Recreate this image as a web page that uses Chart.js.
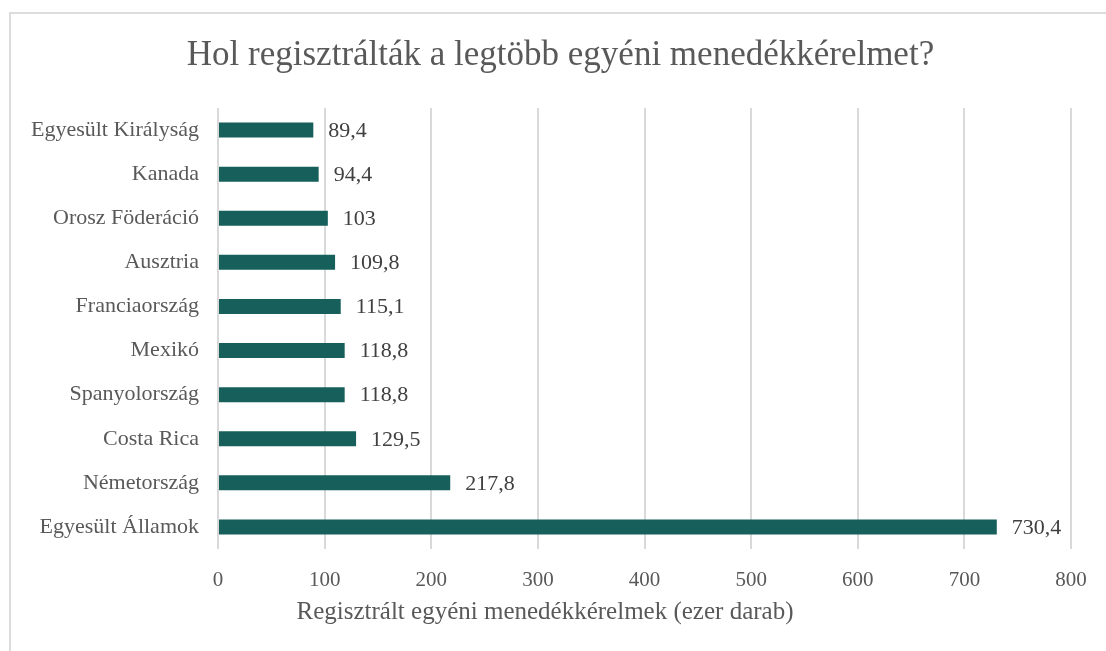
<!DOCTYPE html>
<html>
<head>
<meta charset="utf-8">
<script src="https://cdn.jsdelivr.net/npm/chart.js@4/dist/chart.umd.min.js"></script>
<style>
  html, body { margin: 0; padding: 0; background: #fff; }
  #wrap { position: relative; width: 1106px; height: 651px; }
  #frame { position: absolute; left: 9px; top: 12px; width: 1110px; height: 660px; border: 2px solid #dcdcdc; box-sizing: border-box; pointer-events: none; }
  canvas { position: absolute; left: 0; top: 0; }
</style>
</head>
<body>
<div id="wrap">
  <canvas id="c" width="1106" height="651"></canvas>
  <div id="frame"></div>
</div>
<script>
const categories = ["Egyesült Királyság", "Kanada", "Orosz Föderáció", "Ausztria", "Franciaország", "Mexikó", "Spanyolország", "Costa Rica", "Németország", "Egyesült Államok"];
const values = [89.4, 94.4, 103, 109.8, 115.1, 118.8, 118.8, 129.5, 217.8, 730.4];
const titleText = "Hol regisztrálták a legtöbb egyéni menedékkérelmet?";
const xAxisTitle = "Regisztrált egyéni menedékkérelmek (ezer darab)";
const xTicks = [0, 100, 200, 300, 400, 500, 600, 700, 800];

const FONT = "'Liberation Serif', 'Times New Roman', serif";
const fmt = v => String(v).replace('.', ',');

const labelPlugin = {
  id: 'valueLabels',
  afterDatasetsDraw(chart) {
    const ctx = chart.ctx;
    const meta = chart.getDatasetMeta(0);
    ctx.save();
    ctx.font = "22px " + FONT;
    ctx.fillStyle = "#404040";
    ctx.textAlign = "left";
    ctx.textBaseline = "middle";
    meta.data.forEach((bar, i) => {
      ctx.fillText(fmt(values[i]), bar.x + 15, bar.y + 1);
    });
    ctx.restore();
  }
};

const axisTitlePlugin = {
  id: 'axisTitle',
  afterDraw(chart) {
    const ctx = chart.ctx;
    ctx.save();
    ctx.font = "25px " + FONT;
    ctx.fillStyle = "#595959";
    ctx.textAlign = "center";
    ctx.textBaseline = "middle";
    ctx.fillText(xAxisTitle, chart.width / 2 - 8, chart.chartArea.bottom + 63);
    ctx.restore();
  }
};

new Chart(document.getElementById('c'), {
  type: 'bar',
  data: {
    labels: categories,
    datasets: [{
      data: values,
      backgroundColor: '#175f5a',
      borderWidth: 0,
      categoryPercentage: 1,
      barPercentage: 0.34
    }]
  },
  options: {
    indexAxis: 'y',
    responsive: false,
    animation: false,
    devicePixelRatio: 1,
    layout: { padding: { left: 25, right: 10, top: 0, bottom: 18 } },
    plugins: {
      legend: { display: false },
      tooltip: { enabled: false },
      title: {
        display: true,
        text: titleText,
        color: '#595959',
        font: { family: FONT, size: 35, weight: 'normal' },
        padding: { top: 35, bottom: 31 }
      }
    },
    scales: {
      x: {
        min: 0,
        max: 800,
        afterBuildTicks: s => { s.ticks = xTicks.map(v => ({ value: v })); },
        grid: { color: '#d9d9d9', lineWidth: 2, drawTicks: false },
        border: { display: false },
        ticks: {
          color: '#595959',
          font: { family: FONT, size: 21 },
          padding: 19
        },
        afterFit: s => { s.height = 84; s.paddingRight = 35; }
      },
      y: {
        grid: { display: false, drawTicks: false },
        border: { display: false },
        ticks: {
          color: '#595959',
          font: { family: FONT, size: 22 },
          padding: 19
        },
        afterFit: s => { s.width = 193; }
      }
    }
  },
  plugins: [labelPlugin, axisTitlePlugin]
});
</script>
</body>
</html>
